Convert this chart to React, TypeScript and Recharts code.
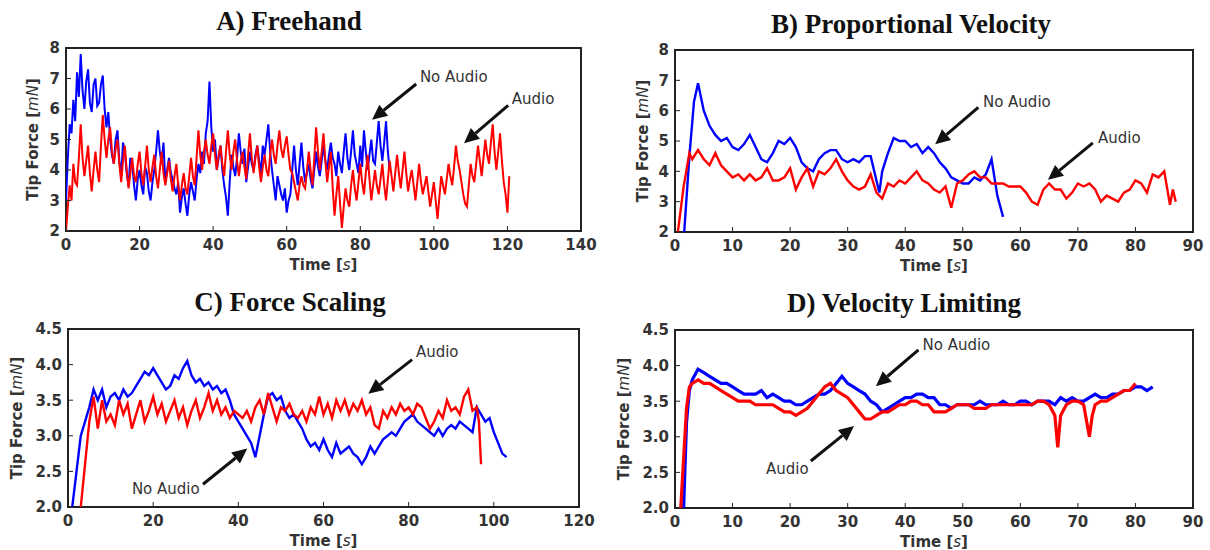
import React from "react";
import { LineChart, Line, XAxis, YAxis, ReferenceArea, ReferenceLine, ReferenceDot } from "recharts";

type Pt = [number, number];

// A) Freehand — samples every 0.5 s starting at t = 0
const FREEHAND_STEP = 0.5;
const freehandNoAudioValues = [
  3.0, 4.4, 5.5, 5.2, 6.3, 5.6, 7.2, 6.4, 7.8, 6.6, 6.0, 6.9, 7.3, 6.2, 5.9, 6.8, 7.0, 6.1, 6.2, 6.8,
  7.1, 6.0, 5.4, 5.9, 5.0, 4.5, 4.2, 5.0, 5.3, 4.3, 3.8, 4.9, 4.6, 3.9, 3.5, 4.4, 4.2, 3.5, 3.0, 3.7,
  4.0, 3.5, 3.2, 4.1, 3.9, 3.3, 3.0, 3.6, 4.0, 4.6, 5.3, 4.6, 4.2, 4.9, 3.6, 4.0, 4.4, 3.9, 3.7, 3.4,
  3.2, 3.6, 2.6, 3.1, 3.4, 2.9, 2.5, 3.2, 3.6, 3.3, 3.0, 3.7, 4.2, 3.9, 4.6, 4.2, 5.2, 5.6, 6.9, 5.4,
  4.6, 5.0, 4.0, 4.4, 4.8, 4.0, 3.5, 3.1, 2.5, 3.6, 4.5, 4.1, 3.8, 4.4, 5.2, 4.6, 4.2, 4.7, 3.6, 4.1,
  4.6, 4.2, 4.0, 4.5, 4.8, 4.3, 3.9, 4.8, 4.5, 5.0, 5.5, 4.6, 4.0, 3.5, 3.0, 3.8, 3.5, 3.2, 3.0, 3.4,
  2.6, 3.0, 3.2, 4.0, 4.8, 4.0, 3.5, 4.2, 4.9, 4.1, 3.6, 3.9, 4.2, 3.7, 3.4, 4.0, 4.6, 4.1, 3.8, 4.3,
  4.8, 4.3, 4.0, 4.5, 4.9, 4.4, 4.2, 3.8, 4.6, 4.2, 3.9, 4.6, 5.2, 4.4, 4.0, 4.6, 5.3, 4.5, 4.2, 3.9,
  4.8, 4.1, 5.3, 4.6, 4.0, 4.5, 5.0, 4.3, 4.2, 4.9, 5.6, 4.8, 4.3, 4.9, 5.6, 4.6, 4.0,
];
const freehandAudioValues = [
  2.0, 2.8, 3.5, 3.0, 4.2, 3.6, 3.5, 4.4, 5.5, 4.4, 3.8, 4.3, 4.8, 3.9, 3.3, 4.0, 4.6, 4.0, 3.6, 4.8,
  5.8, 5.0, 4.4, 5.0, 5.4, 4.6, 4.2, 4.7, 5.0, 4.2, 3.6, 4.3, 4.8, 4.0, 3.4, 3.9, 4.4, 3.8, 3.6, 4.2,
  4.6, 3.9, 3.5, 4.1, 4.8, 4.0, 3.6, 4.1, 4.5, 3.8, 3.4, 4.0, 4.6, 3.9, 3.5, 3.9, 4.3, 3.7, 3.3, 3.8,
  4.2, 3.5, 3.0, 3.5, 3.9, 3.4, 3.2, 3.8, 4.4, 3.8, 3.5, 4.4, 5.3, 4.5, 4.0, 4.6, 5.0, 4.5, 4.2, 4.8,
  5.2, 4.5, 4.0, 4.5, 4.8, 4.2, 3.8, 4.6, 5.3, 4.5, 4.0, 4.6, 5.0, 4.3, 3.8, 4.3, 4.6, 4.1, 3.7, 4.5,
  5.2, 4.4, 3.9, 4.4, 4.8, 4.1, 3.6, 4.1, 4.5, 4.0, 3.8, 4.5, 5.0, 4.5, 4.2, 4.8, 5.3, 4.7, 4.4, 4.8,
  5.1, 4.5, 4.0, 3.9, 3.6, 3.3, 3.0, 3.5, 3.8, 3.5, 3.4, 4.0, 4.6, 4.0, 3.5, 4.4, 5.4, 4.6, 4.0, 4.6,
  5.2, 4.3, 3.6, 4.1, 4.6, 3.4, 2.5, 3.2, 3.8, 2.9, 2.1, 2.8, 3.4, 3.0, 2.8, 3.5, 4.0, 3.4, 3.0, 3.6,
  4.2, 3.6, 3.2, 3.9, 4.5, 3.7, 3.0, 3.5, 4.0, 3.5, 3.2, 3.7, 4.2, 3.5, 3.0, 3.7, 4.3, 3.8, 3.3, 3.9,
  4.5, 3.9, 3.4, 4.0, 4.6, 3.9, 3.3, 3.7, 4.0, 3.5, 3.0, 3.6, 4.2, 3.6, 3.2, 3.5, 3.8, 3.3, 2.8, 3.2,
  3.6, 3.0, 2.4, 3.1, 3.8, 3.5, 3.2, 3.7, 4.2, 3.8, 3.5, 4.1, 4.8, 4.3, 4.0, 3.6, 3.2, 2.9, 2.8, 3.5,
  4.2, 3.8, 3.6, 4.2, 4.8, 4.3, 3.8, 4.4, 5.0, 4.5, 4.2, 4.9, 5.5, 4.6, 4.0, 4.6, 5.2, 4.3, 3.6, 3.2,
  2.6, 3.8,
];

// B) Proportional Velocity
const propNoAudio: Pt[] = [
  [1.6, 2.0], [2.5, 4.5], [3.3, 6.3], [4, 6.9], [5, 6.0], [6, 5.5], [7, 5.2], [8, 5.0], [9, 5.1], [10, 4.8],
  [11, 4.7], [12, 4.9], [13, 5.2], [14, 4.8], [15, 4.4], [16, 4.3], [17, 4.6], [18, 5.0], [19, 4.9], [20, 5.1],
  [21, 4.8], [22, 4.3], [23, 4.1], [24, 4.0], [25, 4.4], [26, 4.6], [27, 4.7], [28, 4.7], [29, 4.4], [30, 4.3],
  [31, 4.4], [32, 4.3], [33, 4.5], [34, 4.5], [35, 3.7], [35.5, 3.3], [36, 4.0], [37, 4.6], [38, 5.1], [39, 5.0],
  [40, 5.0], [41, 4.8], [42, 4.9], [43, 4.6], [44, 4.8], [45, 4.6], [46, 4.3], [47, 4.1], [48, 3.8], [49, 3.7],
  [50, 3.6], [51, 3.6], [52, 3.8], [53, 3.7], [54, 3.9], [55, 4.4], [56, 3.2], [57, 2.5],
];
const propAudio: Pt[] = [
  [0.5, 2.0], [1.5, 3.5], [2.5, 4.6], [3, 4.4], [4, 4.7], [5, 4.4], [6, 4.2], [7, 4.6], [8, 4.2], [9, 4.0],
  [10, 3.8], [11, 3.9], [12, 3.7], [13, 3.9], [14, 3.7], [15, 3.8], [16, 4.1], [17, 3.7], [18, 3.7], [19, 3.8],
  [20, 4.1], [21, 3.4], [22, 3.8], [23, 4.1], [24, 3.5], [25, 4.0], [26, 3.9], [27, 4.1], [28, 4.4], [29, 4.0],
  [30, 3.7], [31, 3.5], [32, 3.4], [33, 3.5], [34, 3.9], [35, 3.3], [36, 3.1], [37, 3.6], [38, 3.5], [39, 3.7],
  [40, 3.6], [41, 3.8], [42, 4.0], [43, 3.7], [44, 3.6], [45, 3.4], [46, 3.3], [47, 3.5], [48, 2.8], [49, 3.6],
  [50, 3.7], [51, 3.9], [52, 4.0], [53, 3.8], [54, 3.8], [55, 3.6], [56, 3.6], [57, 3.6], [58, 3.5], [59, 3.5],
  [60, 3.5], [61, 3.3], [62, 3.0], [63, 2.9], [64, 3.4], [65, 3.6], [66, 3.4], [67, 3.4], [68, 3.1], [69, 3.3],
  [70, 3.6], [71, 3.5], [72, 3.6], [73, 3.4], [74, 3.0], [75, 3.2], [76, 3.1], [77, 3.0], [78, 3.3], [79, 3.4],
  [80, 3.7], [81, 3.6], [82, 3.3], [83, 3.9], [84, 3.8], [85, 4.0], [86, 2.9], [86.5, 3.4], [87, 3.0],
];

// C) Force Scaling
const scalingNoAudio: Pt[] = [
  [1, 2.0], [2, 2.5], [3, 3.0], [4, 3.2], [5, 3.4], [6, 3.65], [7, 3.5], [8, 3.65], [9, 3.4], [10, 3.55],
  [11, 3.6], [12, 3.5], [13, 3.65], [14, 3.55], [15, 3.6], [16, 3.7], [17, 3.8], [18, 3.9], [19, 3.85], [20, 3.95],
  [21, 3.85], [22, 3.75], [23, 3.65], [24, 3.7], [25, 3.85], [26, 3.8], [27, 3.95], [28, 4.05], [29, 3.85], [30, 3.75],
  [31, 3.8], [32, 3.7], [33, 3.75], [34, 3.65], [35, 3.7], [36, 3.6], [37, 3.65], [38, 3.5], [39, 3.3], [40, 3.2],
  [41, 3.1], [42, 3.0], [43, 2.9], [44, 2.7], [45, 3.0], [46, 3.3], [47, 3.55], [48, 3.6], [49, 3.5], [50, 3.55],
  [51, 3.35], [52, 3.25], [53, 3.3], [54, 3.2], [55, 3.1], [56, 2.95], [57, 2.85], [58, 2.9], [59, 2.8], [60, 2.95],
  [61, 2.8], [62, 2.7], [63, 2.9], [64, 2.75], [65, 2.8], [66, 2.85], [67, 2.75], [68, 2.7], [69, 2.6], [70, 2.7],
  [71, 2.85], [72, 2.75], [73, 2.85], [74, 2.95], [75, 3.0], [76, 3.05], [77, 3.0], [78, 3.1], [79, 3.2], [80, 3.25],
  [81, 3.3], [82, 3.2], [83, 3.15], [84, 3.1], [85, 3.05], [86, 3.0], [87, 3.1], [88, 3.0], [89, 3.1], [90, 3.15],
  [91, 3.1], [92, 3.2], [93, 3.15], [94, 3.1], [95, 3.05], [96, 3.4], [97, 3.3], [98, 3.2], [99, 3.25], [100, 3.05],
  [101, 2.9], [102, 2.75], [103, 2.7],
];
const scalingAudio: Pt[] = [
  [3, 2.0], [4, 2.6], [5, 3.2], [6, 3.55], [7, 3.1], [8, 3.5], [9, 3.2], [10, 3.3], [11, 3.15], [12, 3.5],
  [13, 3.3], [14, 3.45], [15, 3.1], [16, 3.3], [17, 3.5], [18, 3.2], [19, 3.35], [20, 3.55], [21, 3.3], [22, 3.45],
  [23, 3.2], [24, 3.35], [25, 3.5], [26, 3.25], [27, 3.4], [28, 3.15], [29, 3.35], [30, 3.5], [31, 3.25], [32, 3.4],
  [33, 3.6], [34, 3.35], [35, 3.5], [36, 3.3], [37, 3.4], [38, 3.25], [39, 3.35], [40, 3.3], [41, 3.25], [42, 3.35],
  [43, 3.2], [44, 3.4], [45, 3.5], [46, 3.3], [47, 3.6], [48, 3.4], [49, 3.2], [50, 3.4], [51, 3.35], [52, 3.45],
  [53, 3.3], [54, 3.25], [55, 3.35], [56, 3.2], [57, 3.4], [58, 3.3], [59, 3.55], [60, 3.3], [61, 3.45], [62, 3.25],
  [63, 3.5], [64, 3.35], [65, 3.5], [66, 3.3], [67, 3.45], [68, 3.35], [69, 3.5], [70, 3.3], [71, 3.4], [72, 3.15],
  [73, 3.1], [74, 3.35], [75, 3.25], [76, 3.4], [77, 3.3], [78, 3.45], [79, 3.35], [80, 3.4], [81, 3.3], [82, 3.45],
  [83, 3.4], [84, 3.25], [85, 3.1], [86, 3.2], [87, 3.35], [88, 3.25], [89, 3.5], [90, 3.35], [91, 3.4], [92, 3.3],
  [93, 3.55], [94, 3.65], [95, 3.35], [96, 3.4], [96.5, 3.2], [97, 2.6],
];

// D) Velocity Limiting
const limitNoAudio: Pt[] = [
  [1.5, 2.0], [2, 3.2], [2.5, 3.65], [3, 3.8], [4, 3.95], [5, 3.9], [6, 3.85], [7, 3.8], [8, 3.75], [9, 3.75],
  [10, 3.7], [11, 3.65], [12, 3.6], [13, 3.6], [14, 3.6], [15, 3.65], [16, 3.55], [17, 3.6], [18, 3.55], [19, 3.5],
  [20, 3.5], [21, 3.45], [22, 3.45], [23, 3.5], [24, 3.55], [25, 3.6], [26, 3.6], [27, 3.65], [28, 3.75], [29, 3.85],
  [30, 3.75], [31, 3.7], [32, 3.65], [33, 3.6], [34, 3.5], [35, 3.45], [36, 3.35], [37, 3.4], [38, 3.45], [39, 3.5],
  [40, 3.55], [41, 3.55], [42, 3.6], [43, 3.6], [44, 3.55], [45, 3.55], [46, 3.45], [47, 3.45], [48, 3.4], [49, 3.45],
  [50, 3.45], [51, 3.45], [52, 3.45], [53, 3.5], [54, 3.45], [55, 3.45], [56, 3.45], [57, 3.5], [58, 3.45], [59, 3.45],
  [60, 3.5], [61, 3.5], [62, 3.45], [63, 3.5], [64, 3.5], [65, 3.5], [66, 3.45], [67, 3.55], [68, 3.5], [69, 3.55],
  [70, 3.5], [71, 3.5], [72, 3.55], [73, 3.6], [74, 3.55], [75, 3.55], [76, 3.6], [77, 3.6], [78, 3.65], [79, 3.65],
  [80, 3.7], [81, 3.7], [82, 3.65], [83, 3.7],
];
const limitAudio: Pt[] = [
  [1, 2.0], [2, 3.4], [2.5, 3.7], [3, 3.75], [4, 3.8], [5, 3.75], [6, 3.75], [7, 3.7], [8, 3.65], [9, 3.6],
  [10, 3.55], [11, 3.5], [12, 3.5], [13, 3.5], [14, 3.45], [15, 3.45], [16, 3.45], [17, 3.45], [18, 3.4], [19, 3.35],
  [20, 3.35], [21, 3.3], [22, 3.35], [23, 3.4], [24, 3.5], [25, 3.6], [26, 3.7], [27, 3.75], [28, 3.65], [29, 3.6],
  [30, 3.55], [31, 3.45], [32, 3.35], [33, 3.25], [34, 3.25], [35, 3.3], [36, 3.35], [37, 3.35], [38, 3.4], [39, 3.45],
  [40, 3.45], [41, 3.5], [42, 3.5], [43, 3.45], [44, 3.45], [45, 3.35], [46, 3.35], [47, 3.35], [48, 3.4], [49, 3.45],
  [50, 3.45], [51, 3.45], [52, 3.4], [53, 3.4], [54, 3.4], [55, 3.45], [56, 3.45], [57, 3.45], [58, 3.45], [59, 3.45],
  [60, 3.45], [61, 3.45], [62, 3.45], [63, 3.5], [64, 3.5], [65, 3.45], [66, 3.3], [66.5, 2.85], [67, 3.3], [68, 3.45],
  [69, 3.5], [70, 3.5], [71, 3.45], [72, 3.0], [72.5, 3.3], [73, 3.45], [74, 3.5], [75, 3.5], [76, 3.55], [77, 3.6],
  [78, 3.65], [79, 3.65], [80, 3.75],
];

// annotation arrows: text anchor, arrow tail, arrow head (data coords)
type Note = { text: string; at: Pt; from: Pt; to: Pt };
const freehandNotes: Note[] = [
  { text: "No Audio", at: [96.2, 7.04], from: [95.2, 6.82], to: [83.2, 5.65] },
  { text: "Audio", at: [121.2, 6.32], from: [120.2, 6.12], to: [108.2, 4.88] },
];
const propNotes: Note[] = [
  { text: "No Audio", at: [53.5, 6.28], from: [52.7, 6.11], to: [45.2, 4.89] },
  { text: "Audio", at: [73.5, 5.11], from: [72.6, 4.94], to: [64.8, 3.72] },
];
const scalingNotes: Note[] = [
  { text: "Audio", at: [81.7, 4.17], from: [80.8, 4.07], to: [70.5, 3.59] },
  { text: "No Audio", at: [15.0, 2.25], from: [31.7, 2.32], to: [42.1, 2.82] },
];
const limitNotes: Note[] = [
  { text: "No Audio", at: [43.0, 4.29], from: [42.3, 4.22], to: [34.9, 3.71] },
  { text: "Audio", at: [15.8, 2.55], from: [23.6, 2.66], to: [31.1, 3.15] },
];

const BLUE = "#0000ff";
const RED = "#ff0000";
const INK = "#333";
const SANS = "DejaVu Sans, sans-serif";

const stepped = (values: number[], step: number): Pt[] => values.map((v, i) => [i * step, v]);
const freehandNoAudio = stepped(freehandNoAudioValues, FREEHAND_STEP);
const freehandAudio = stepped(freehandAudioValues, FREEHAND_STEP);

const rows = (pts: Pt[]) => pts.map(([t, v]) => ({ t, v }));
const range = (a: number, b: number, s: number) => {
  const out: number[] = [];
  for (let x = a; x <= b + 1e-9; x += s) out.push(Math.round(x * 10) / 10);
  return out;
};

const Arrow = (props: any) => {
  const { x1, y1, x2, y2 } = props;
  if ([x1, y1, x2, y2].some((n) => typeof n !== "number" || isNaN(n))) return null;
  const dx = x2 - x1;
  const dy = y2 - y1;
  const len = Math.hypot(dx, dy) || 1;
  const ux = dx / len;
  const uy = dy / len;
  const hl = 15;
  const hw = 7;
  const bx = x2 - ux * hl;
  const by = y2 - uy * hl;
  return (
    <g>
      <line x1={x1} y1={y1} x2={bx} y2={by} stroke="#111" strokeWidth={3} />
      <polygon
        points={`${x2},${y2} ${bx - uy * hw},${by + ux * hw} ${bx + uy * hw},${by - ux * hw}`}
        fill="#111"
      />
    </g>
  );
};

interface PanelProps {
  title: string;
  titleX: number;
  titleY: number;
  left: number;
  top: number;
  width: number;
  height: number;
  margin: { top: number; right: number; left: number; bottom: number };
  xMax: number;
  xStep: number;
  yMin: number;
  yMax: number;
  yStep: number;
  decimals: number;
  yLabelX: number;
  noAudio: Pt[];
  audio: Pt[];
  notes: Note[];
  lineWidth: number;
}

function Panel(p: PanelProps) {
  const tickStyle = { fill: INK, fontSize: 15, fontWeight: "bold", fontFamily: SANS };
  return (
    <>
      <div
        style={{
          position: "absolute",
          left: p.titleX - 250,
          top: p.titleY - 16,
          width: 500,
          textAlign: "center",
          fontFamily: "Liberation Serif, serif",
          fontWeight: "bold",
          fontSize: 27,
          lineHeight: "32px",
          color: "#111",
        }}
      >
        {p.title}
      </div>
      <div style={{ position: "absolute", left: p.left, top: p.top }}>
        <LineChart width={p.width} height={p.height} margin={p.margin}>
          <XAxis
            type="number"
            dataKey="t"
            domain={[0, p.xMax]}
            ticks={range(0, p.xMax, p.xStep)}
            allowDataOverflow
            height={30}
            axisLine={false}
            tickSize={-5}
            tickMargin={13}
            tickLine={{ stroke: "#222" }}
            tick={tickStyle}
            label={{
              content: (lp: any) => {
                const vb = lp.viewBox || { x: 0, y: 0, width: 0 };
                const cx = vb.x + vb.width / 2;
                return (
                  <text x={cx} y={vb.y + 34} textAnchor="middle" dominantBaseline="central"
                    fill={INK} fontSize={15} fontWeight="bold" fontFamily={SANS}>
                    Time [<tspan fontStyle="italic" fontWeight="normal">s</tspan>]
                  </text>
                );
              },
            }}
          />
          <YAxis
            type="number"
            domain={[p.yMin, p.yMax]}
            ticks={range(p.yMin, p.yMax, p.yStep)}
            allowDataOverflow
            width={46}
            axisLine={false}
            tickSize={-5}
            tickMargin={11}
            tickLine={{ stroke: "#222" }}
            tick={tickStyle}
            tickFormatter={(v: number) => v.toFixed(p.decimals)}
            label={{
              content: (lp: any) => {
                const vb = lp.viewBox || { y: 0, height: 0 };
                const cy = vb.y + vb.height / 2;
                return (
                  <text x={p.yLabelX} y={cy} transform={`rotate(-90, ${p.yLabelX}, ${cy})`}
                    textAnchor="middle" dominantBaseline="central"
                    fill={INK} fontSize={15} fontWeight="bold" fontFamily={SANS}>
                    Tip Force [<tspan fontStyle="italic" fontWeight="normal">mN</tspan>]
                  </text>
                );
              },
            }}
          />
          <Line data={rows(p.noAudio)} dataKey="v" type="linear" stroke={BLUE} strokeWidth={p.lineWidth}
            dot={false} isAnimationActive={false} />
          <Line data={rows(p.audio)} dataKey="v" type="linear" stroke={RED} strokeWidth={p.lineWidth}
            dot={false} isAnimationActive={false} />
          <ReferenceArea x1={0} x2={p.xMax} y1={p.yMin} y2={p.yMax} fill="none" fillOpacity={0}
            stroke="#222" strokeWidth={2} ifOverflow="visible" />
          {p.notes.map((n, i) => (
            <ReferenceLine key={`a${i}`} segment={[{ x: n.from[0], y: n.from[1] }, { x: n.to[0], y: n.to[1] }]}
              ifOverflow="visible" shape={Arrow} />
          ))}
          {p.notes.map((n, i) => (
            <ReferenceDot key={`t${i}`} x={n.at[0]} y={n.at[1]} r={0} ifOverflow="visible"
              shape={(dp: any) => (
                <text x={dp.cx} y={dp.cy} dominantBaseline="central" fill={INK} fontSize={15}
                  fontFamily={SANS}>{n.text}</text>
              )} />
          ))}
        </LineChart>
      </div>
    </>
  );
}

export default function App() {
  return (
    <div style={{ position: "absolute", left: 0, top: 0, width: 1210, height: 550, background: "#fff" }}>
      <Panel title="A) Freehand" titleX={289} titleY={21} left={0} top={0} width={600} height={275}
        margin={{ top: 48, right: 19, left: 20, bottom: 14 }} xMax={140} xStep={20}
        yMin={2} yMax={8} yStep={1} decimals={0} yLabelX={33}
        noAudio={freehandNoAudio} audio={freehandAudio} notes={freehandNotes} lineWidth={2} />
      <Panel title="B) Proportional Velocity" titleX={911} titleY={24} left={605} top={0} width={605} height={275}
        margin={{ top: 50, right: 17, left: 24, bottom: 13 }} xMax={90} xStep={10}
        yMin={2} yMax={8} yStep={1} decimals={0} yLabelX={38}
        noAudio={propNoAudio} audio={propAudio} notes={propNotes} lineWidth={2.4} />
      <Panel title="C) Force Scaling" titleX={290} titleY={302} left={0} top={280} width={600} height={270}
        margin={{ top: 49, right: 21, left: 22, bottom: 13 }} xMax={120} xStep={20}
        yMin={2} yMax={4.5} yStep={0.5} decimals={1} yLabelX={17}
        noAudio={scalingNoAudio} audio={scalingAudio} notes={scalingNotes} lineWidth={2.4} />
      <Panel title="D) Velocity Limiting" titleX={904} titleY={303} left={605} top={280} width={605} height={270}
        margin={{ top: 50, right: 17, left: 24, bottom: 12 }} xMax={90} xStep={10}
        yMin={2} yMax={4.5} yStep={0.5} decimals={1} yLabelX={19}
        noAudio={limitNoAudio} audio={limitAudio} notes={limitNotes} lineWidth={3.2} />
    </div>
  );
}
